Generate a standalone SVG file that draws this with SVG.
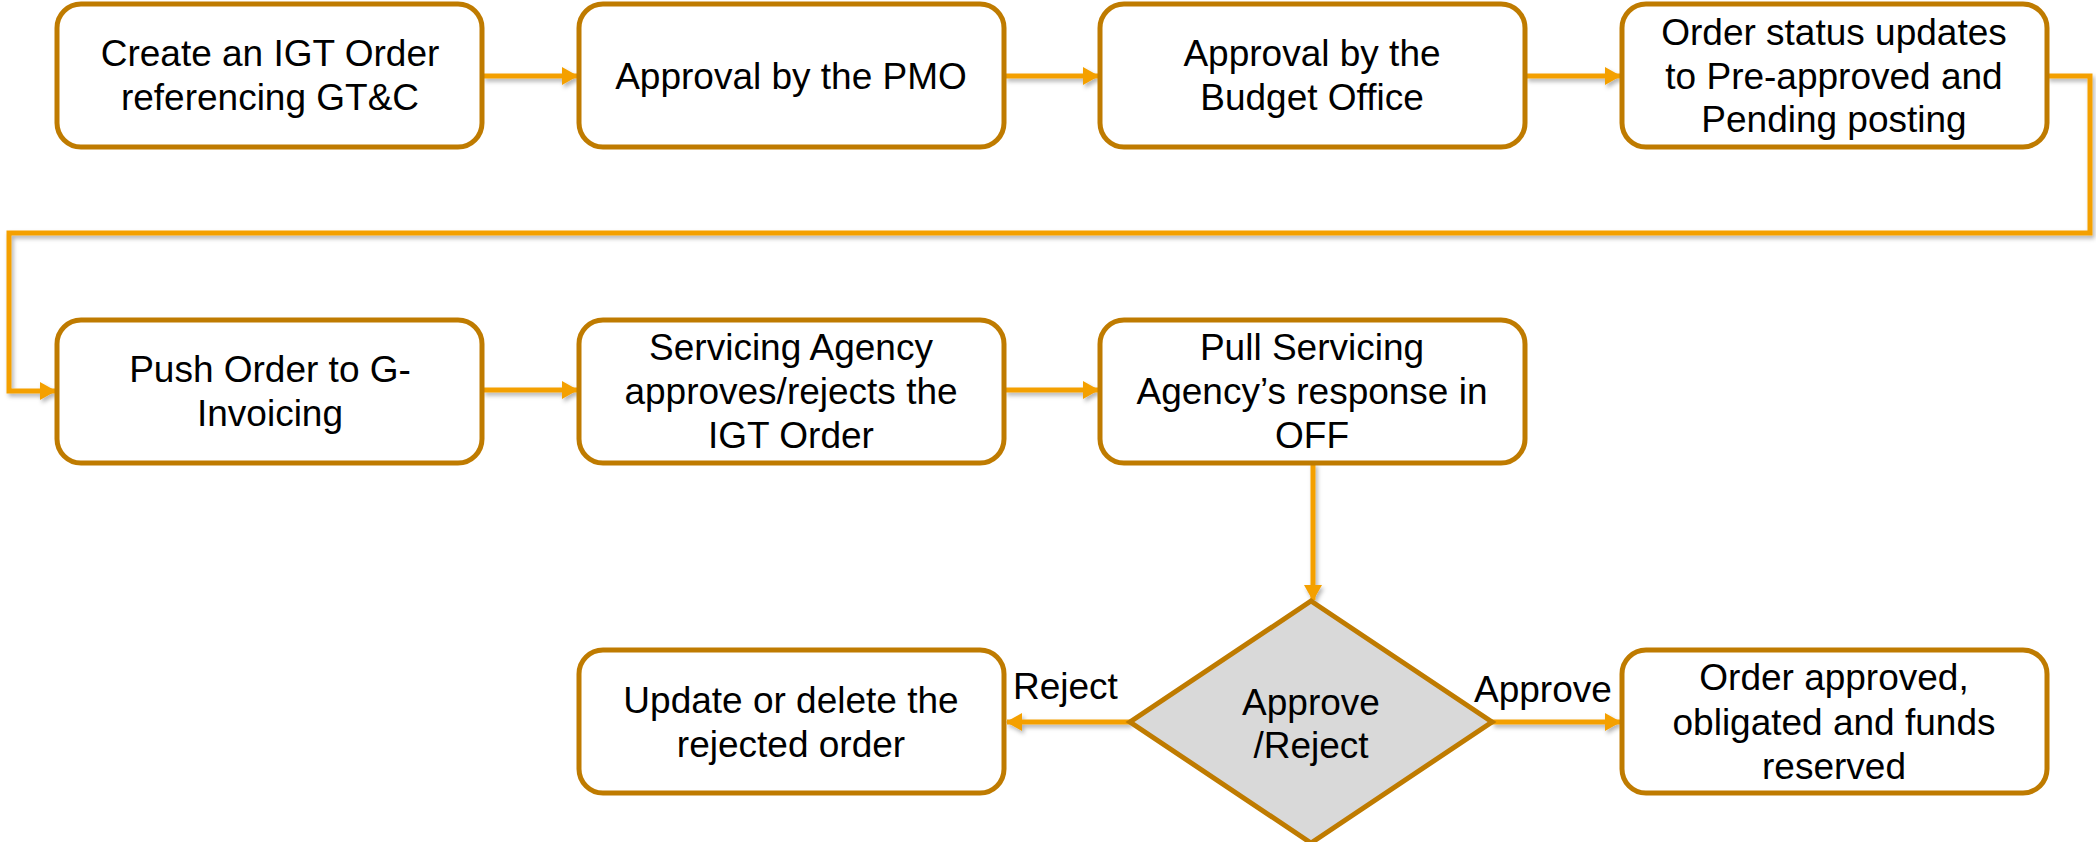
<svg xmlns="http://www.w3.org/2000/svg" width="2096" height="842" viewBox="0 0 2096 842">
<style>
.box{fill:#FFFFFF;stroke:#BF7B00;stroke-width:5}
.dia{fill:#D9D9D9;stroke:#BF7B00;stroke-width:5}
.t{font-family:"Liberation Sans",Arial,sans-serif;font-size:37px;fill:#000000;text-anchor:middle}
.lbl{font-family:"Liberation Sans",Arial,sans-serif;font-size:37px;fill:#000000}
.c{fill:none;stroke:#F4A000;stroke-width:5;marker-end:url(#ah)}
</style>
<defs>
<marker id="ah" markerUnits="userSpaceOnUse" markerWidth="16" markerHeight="18" refX="15" refY="9" orient="auto">
<path d="M0,0 L16,9 L0,18 z" fill="#F4A000"/>
</marker>
<filter id="sh" x="-5%" y="-5%" width="110%" height="120%">
<feDropShadow dx="2" dy="3" stdDeviation="2" flood-color="#000" flood-opacity="0.3"/>
</filter>
</defs>
<rect width="2096" height="842" fill="#FFFFFF"/>
<g id="connectors" filter="url(#sh)">
<path class="c" d="M483,76 L577,76"/>
<path class="c" d="M1005,76 L1098,76"/>
<path class="c" d="M1526,76 L1620,76"/>
<path class="c" d="M2047,76 L2090,76 L2090,233 L9,233 L9,391 L55,391"/>
<path class="c" d="M483,390 L577,390"/>
<path class="c" d="M1005,390 L1098,390"/>
<path class="c" d="M1313,463 L1313,600"/>
<path class="c" d="M1130,722 L1007,722"/>
<path class="c" d="M1492,722 L1620,722"/>
</g>
<g id="n1"><rect class="box" x="57" y="4" width="425" height="143" rx="24"/>
<text class="t" x="270" y="66">Create an IGT Order</text><text class="t" x="270" y="110">referencing GT&amp;C</text></g>
<g id="n2"><rect class="box" x="579" y="4" width="425" height="143" rx="24"/>
<text class="t" x="791" y="89">Approval by the PMO</text></g>
<g id="n3"><rect class="box" x="1100" y="4" width="425" height="143" rx="24"/>
<text class="t" x="1312" y="66">Approval by the</text><text class="t" x="1312" y="110">Budget Office</text></g>
<g id="n4"><rect class="box" x="1622" y="4" width="425" height="143" rx="24"/>
<text class="t" x="1834" y="45">Order status updates</text><text class="t" x="1834" y="89">to Pre-approved and</text><text class="t" x="1834" y="132">Pending posting</text></g>
<g id="n5"><rect class="box" x="57" y="320" width="425" height="143" rx="24"/>
<text class="t" x="270" y="382">Push Order to G-</text><text class="t" x="270" y="426">Invoicing</text></g>
<g id="n6"><rect class="box" x="579" y="320" width="425" height="143" rx="24"/>
<text class="t" x="791" y="360">Servicing Agency</text><text class="t" x="791" y="404">approves/rejects the</text><text class="t" x="791" y="448">IGT Order</text></g>
<g id="n7"><rect class="box" x="1100" y="320" width="425" height="143" rx="24"/>
<text class="t" x="1312" y="360">Pull Servicing</text><text class="t" x="1312" y="404">Agency’s response in</text><text class="t" x="1312" y="448">OFF</text></g>
<g id="n8"><polygon class="dia" points="1311,601 1492,722 1311,843 1130,722"/>
<text class="t" x="1311" y="715">Approve</text><text class="t" x="1311" y="758">/Reject</text></g>
<g id="n9"><rect class="box" x="579" y="650" width="425" height="143" rx="24"/>
<text class="t" x="791" y="713">Update or delete the</text><text class="t" x="791" y="757">rejected order</text></g>
<g id="n10"><rect class="box" x="1622" y="650" width="425" height="143" rx="24"/>
<text class="t" x="1834" y="690">Order approved,</text><text class="t" x="1834" y="735">obligated and funds</text><text class="t" x="1834" y="779">reserved</text></g>
<g id="labels">
<text class="lbl" x="1013" y="699">Reject</text>
<text class="lbl" x="1474" y="702">Approve</text>
</g>
</svg>
